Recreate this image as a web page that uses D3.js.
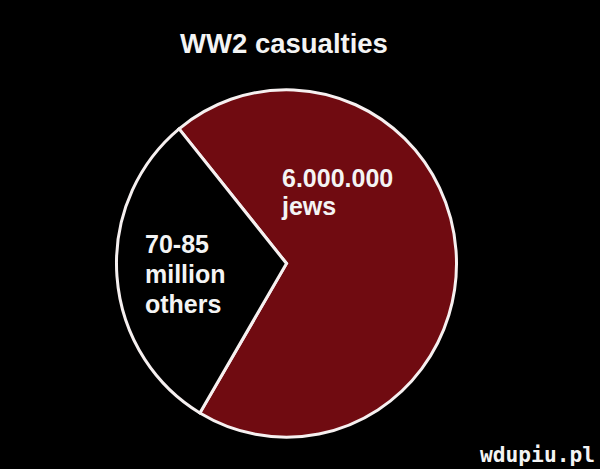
<!DOCTYPE html>
<html>
<head>
<meta charset="utf-8">
<script src="https://cdn.jsdelivr.net/npm/d3@7"></script>
<style>
  html, body { margin: 0; padding: 0; background: #000; }
  svg { display: block; }
  text { font-family: "Liberation Sans", Arial, sans-serif; font-weight: bold; fill: #f4f4f4; }
</style>
</head>
<body>
<svg id="chart" width="600" height="469"></svg>
<script>
// Data (slice shares, in percent of the circle)
const title = "WW2 casualties";
const categories = ["jews", "others"];
const shares = [69.4, 30.6];
const labelLines = [["6.000.000", "jews"], ["70-85", "million", "others"]];
const colors = ["#700b11", "#000000"];
const watermark = "wdupiu.pl";

const svg = d3.select("#chart");
svg.append("rect").attr("width", 600).attr("height", 469).attr("fill", "#000");

svg.append("text")
  .attr("x", 284).attr("y", 53)
  .attr("text-anchor", "middle")
  .attr("font-size", 27.5)
  .text(title);

const cx = 286.5, cy = 263.5, r = 170;
const deg = Math.PI / 180;
const pie = d3.pie().sort(null).value(d => d)
  .startAngle(-39.2 * deg).endAngle(-39.2 * deg + 2 * Math.PI);
const arcs = pie(shares);
const arc = d3.arc().innerRadius(0).outerRadius(r);

const g = svg.append("g").attr("transform", `translate(${cx},${cy}) scale(1,1.022)`);
g.selectAll("path")
  .data(arcs)
  .join("path")
  .attr("d", arc)
  .attr("fill", (d, i) => colors[i])
  .attr("stroke", "#f6f0f0")
  .attr("stroke-width", 3)
  .attr("stroke-linejoin", "miter");

// labels
const labelPos = [{x: 282, y: 187, lh: 28, size: 25}, {x: 145, y: 253, lh: 30, size: 25}];
labelLines.forEach((lines, i) => {
  const p = labelPos[i];
  const t = svg.append("text")
    .attr("x", p.x).attr("y", p.y)
    .attr("font-size", p.size);
  lines.forEach((ln, j) => {
    t.append("tspan").attr("x", p.x).attr("y", p.y + j * p.lh).text(ln);
  });
});

svg.append("text")
  .attr("x", 480).attr("y", 462)
  .attr("font-family", "DejaVu Sans Mono, monospace")
  .attr("font-size", 21)
  .attr("textLength", 115)
  .attr("lengthAdjust", "spacingAndGlyphs")
  .style("font-family", "'DejaVu Sans Mono', monospace")
  .text(watermark);
</script>
</body>
</html>
